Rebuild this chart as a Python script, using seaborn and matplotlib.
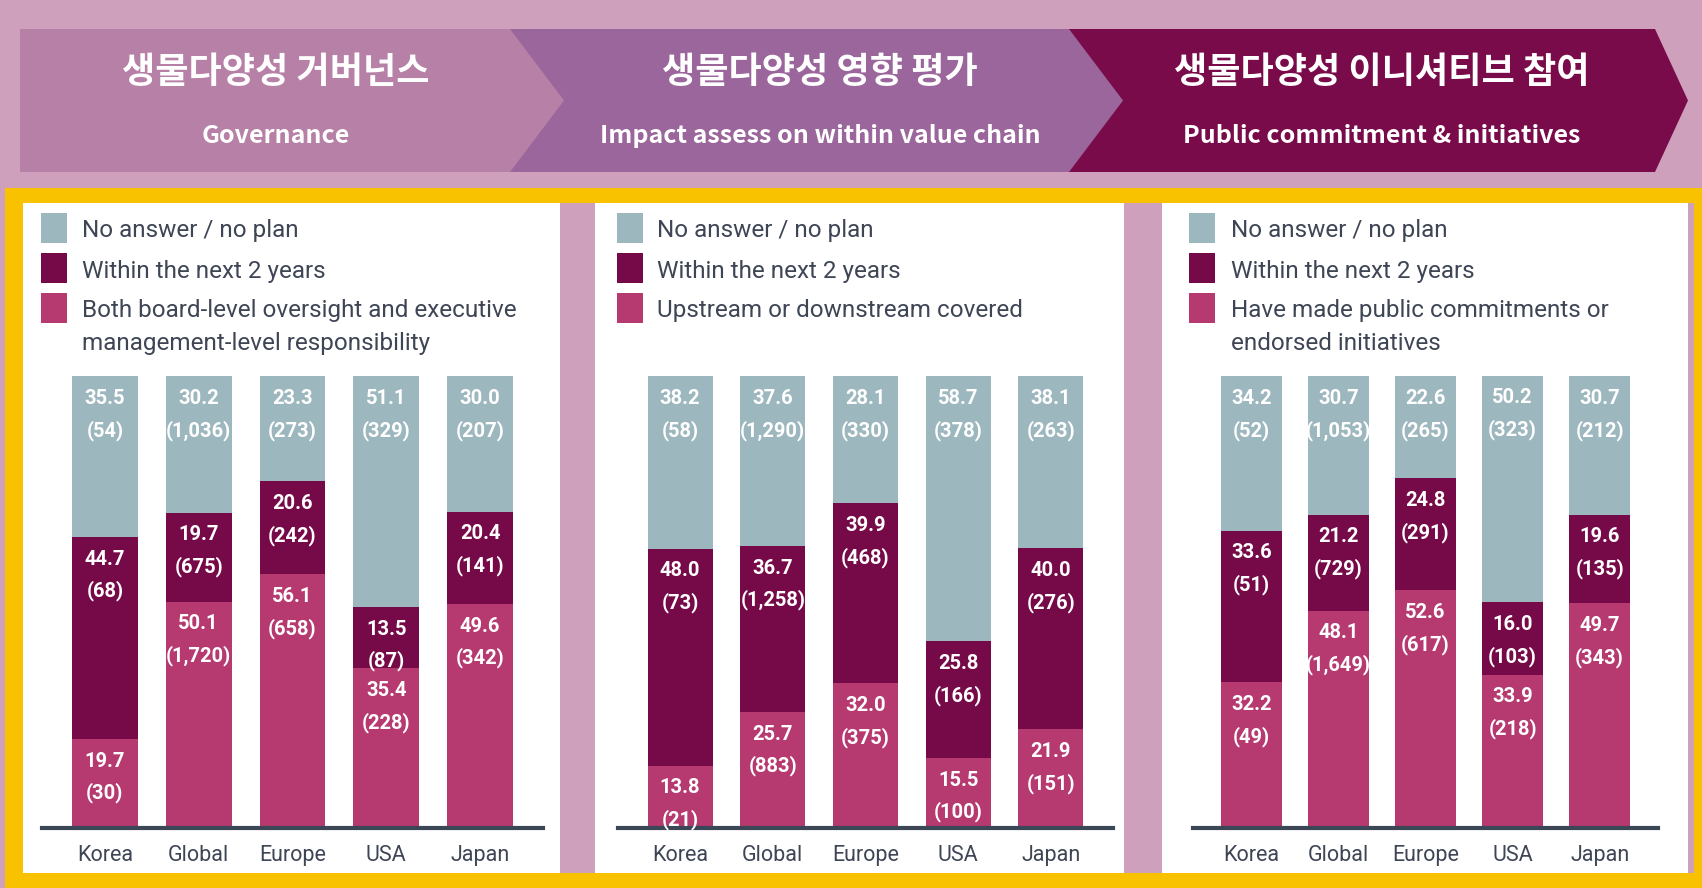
import numpy as np
import pandas as pd
import matplotlib
matplotlib.use("Agg")
import matplotlib.pyplot as plt
from matplotlib.patches import Rectangle, Polygon
import seaborn as sns

sns.set_theme(style="white")
plt.rcParams['font.family'] = ['Roboto', 'DejaVu Sans']

regions = ["Korea", "Global", "Europe", "USA", "Japan"]

# panel 1 : governance
gov_none = [35.5, 30.2, 23.3, 51.1, 30.0]
gov_none_n = [54, 1036, 273, 329, 207]
gov_next2 = [44.7, 19.7, 20.6, 13.5, 20.4]
gov_next2_n = [68, 675, 242, 87, 141]
gov_done = [19.7, 50.1, 56.1, 35.4, 49.6]
gov_done_n = [30, 1720, 658, 228, 342]

# panel 2 : impact assessment
imp_none = [38.2, 37.6, 28.1, 58.7, 38.1]
imp_none_n = [58, 1290, 330, 378, 263]
imp_next2 = [48.0, 36.7, 39.9, 25.8, 40.0]
imp_next2_n = [73, 1258, 468, 166, 276]
imp_done = [13.8, 25.7, 32.0, 15.5, 21.9]
imp_done_n = [21, 883, 375, 100, 151]

# panel 3 : public commitment
pub_none = [34.2, 30.7, 22.6, 50.2, 30.7]
pub_none_n = [52, 1053, 265, 323, 212]
pub_next2 = [33.6, 21.2, 24.8, 16.0, 19.6]
pub_next2_n = [51, 729, 291, 103, 135]
pub_done = [32.2, 48.1, 52.6, 33.9, 49.7]
pub_done_n = [49, 1649, 617, 218, 343]

titles_ko = ["생물다양성 거버넌스", "생물다양성 영향 평가", "생물다양성 이니셔티브 참여"]
titles_en = ["Governance", "Impact assess on within value chain", "Public commitment & initiatives"]
legend_common = ["No answer / no plan", "Within the next 2 years"]
legend_done = [["Both board-level oversight and executive", "management-level responsibility"],
               ["Upstream or downstream covered"],
               ["Have made public commitments or", "endorsed initiatives"]]

C_BG = "#cfa0bc"
C_YEL = "#f9c200"
C_GREY = "#9db7be"
C_DARK = "#760947"
C_PINK = "#b6396f"
C_TXT = "#3e4555"
chev_cols = ["#b780a7", "#9b669b", "#7a0b4a"]

W, H = 1702, 888
fig = plt.figure(figsize=(W / 100, H / 100), dpi=100)
fig.patch.set_facecolor(C_BG)

bg = fig.add_axes([0, 0, 1, 1])
bg.set_xlim(0, W)
bg.set_ylim(H, 0)
bg.axis("off")

# header chevrons (drawn right to left so tips overlap)
chev = [(20, 510, 564), (510, 1069, 1123), (1069, 1655, 1688)]
top, bot = 29, 172
mid = (top + bot) / 2
for i in [2, 1, 0]:
    x0, x1, tip = chev[i]
    bg.add_patch(Polygon([(x0, top), (x1, top), (tip, mid), (x1, bot), (x0, bot)],
                         closed=True, facecolor=chev_cols[i], edgecolor="none"))
title_x = [276, 820, 1382]
for i in range(3):
    bg.text(title_x[i], 72, titles_ko[i], color="white", fontsize=26, ha="center", va="center",
            family=["Noto Sans CJK KR", "DejaVu Sans"], fontweight="bold")
    bg.text(title_x[i], 136, titles_en[i], color="white", fontsize=18, ha="center", va="center",
            family=["Noto Sans CJK KR", "DejaVu Sans"], fontweight="bold")

# yellow frame and white panels
bg.add_patch(Rectangle((5, 188), W - 5, H - 188, facecolor=C_YEL, edgecolor="none"))
bg.add_patch(Rectangle((23, 203), 1694 - 23, 873 - 203, facecolor=C_BG, edgecolor="none"))
panels = [(23, 560), (595, 1124), (1162, 1688)]
for x0, x1 in panels:
    bg.add_patch(Rectangle((x0, 203), x1 - x0, 873 - 203, facecolor="white", edgecolor="none"))

# legends
leg_sq = [41, 617, 1189]
leg_tx = [82, 657, 1231]
rows = [227.5, 268, 307.5]
for p in range(3):
    for r, col in enumerate([C_GREY, C_DARK, C_PINK]):
        bg.add_patch(Rectangle((leg_sq[p], rows[r] - 15), 26, 30, facecolor=col, edgecolor="none"))
    labels = legend_common + [legend_done[p][0]]
    for r, lab in enumerate(labels):
        bg.text(leg_tx[p], rows[r] + 3, lab, color=C_TXT, fontsize=17.5, va="center", ha="left")
    if len(legend_done[p]) > 1:
        bg.text(leg_tx[p], 343, legend_done[p][1], color=C_TXT, fontsize=17.5, va="center", ha="left")

# bar charts
data = [
    (gov_none, gov_none_n, gov_next2, gov_next2_n, gov_done, gov_done_n),
    (imp_none, imp_none_n, imp_next2, imp_next2_n, imp_done, imp_done_n),
    (pub_none, pub_none_n, pub_next2, pub_next2_n, pub_done, pub_done_n),
]
ax_x = [(42, 543), (618, 1113), (1193, 1658)]
y_base, y_top = 828, 376

for p in range(3):
    none, none_n, nxt, nxt_n, done, done_n = data[p]
    df = pd.DataFrame({"region": regions, "none": none, "next2": nxt, "done": done})
    df["t_done"] = df["done"]
    df["t_next2"] = df["done"] + df["next2"]
    df["t_none"] = df["t_next2"] + df["none"]

    x0, x1 = ax_x[p]
    ax = fig.add_axes([x0 / W, (H - y_base) / H, (x1 - x0) / W, (y_base - y_top) / H])
    ax.set_facecolor("none")
    for col, c in [("t_none", C_GREY), ("t_next2", C_DARK), ("t_done", C_PINK)]:
        sns.barplot(data=df, x="region", y=col, color=c, width=0.70, saturation=1,
                    linewidth=0, ax=ax)
    ax.set_xlim(-0.67, 4.67)
    ax.set_ylim(0, 100)
    ax.set_xlabel("")
    ax.set_ylabel("")
    ax.set_yticks([])
    for s in ["top", "left", "right"]:
        ax.spines[s].set_visible(False)
    ax.spines["bottom"].set_color("#3b4656")
    ax.spines["bottom"].set_linewidth(3)
    ax.tick_params(axis="x", length=0, pad=12, labelsize=15.5, labelcolor=C_TXT)

    for i in range(5):
        segs = [(df["t_none"][i], none[i], none_n[i]),
                (df["t_next2"][i], nxt[i], nxt_n[i]),
                (df["t_done"][i], done[i], done_n[i])]
        for seg_top, v, n in segs:
            ax.annotate(f"{v:.1f}", xy=(i, seg_top), xytext=(0, -16), textcoords="offset points",
                        ha="center", va="center", color="white", fontsize=14.5, fontweight="bold")
            ax.annotate(f"({n:,})", xy=(i, seg_top), xytext=(0, -39), textcoords="offset points",
                        ha="center", va="center", color="white", fontsize=14.5, fontweight="bold")

fig.savefig("out.png", dpi=100, facecolor=fig.get_facecolor())
